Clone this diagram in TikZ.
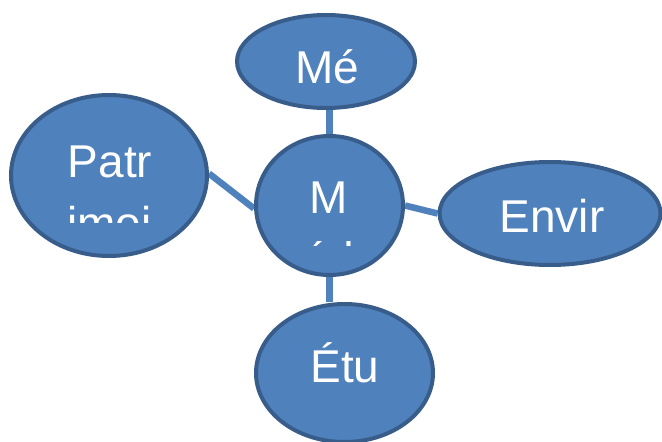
\documentclass[tikz,border=0pt]{standalone}
\usepackage{fontspec}
\setmainfont{Liberation Sans}
\usetikzlibrary{shapes.geometric,backgrounds}
\definecolor{fillc}{HTML}{4F81BD}
\definecolor{bordc}{HTML}{385D8A}
\tikzset{
  bub/.style={ellipse, draw=bordc, fill=fillc, line width=4pt, inner sep=0pt},
  lab/.style={text=white, inner sep=0pt, anchor=base, font=\fontsize{46}{54}\selectfont},
  conn/.style={draw=fillc, line width=6.5pt}
}
\begin{document}
\begin{tikzpicture}[x=1pt,y=-1pt]
\useasboundingbox (0,0) rectangle (662,442);
% bubbles
\node[bub, minimum width=178pt, minimum height=93pt] (M) at (326,61.5) {};
\node[bub, minimum width=196pt, minimum height=161pt] (P) at (109,175.5) {};
\node[bub, minimum width=147pt, minimum height=139pt] (C) at (329.5,205.5) {};
\node[bub, minimum width=221pt, minimum height=103pt] (E) at (550,213.5) {};
\node[bub, minimum width=177pt, minimum height=138pt] (T) at (344.5,373) {};
% connectors
\begin{pgfonlayer}{background}
\draw[conn] (C.north) -- (C.north |- M.south);
\draw[conn] (C.south) -- (C.south |- T.north);
\draw[conn] ([yshift=-3pt]C.west) -- ([yshift=2pt]P.east);
\draw[conn] (C.east) -- (E.west);
\end{pgfonlayer}
% labels
\node[lab] (tM) at (327,83) {Mé};
\node[lab] (tP) at (110,177) {Patr};
\begin{scope}
\clip (0,196) rectangle (662,222);
\node[lab] (tP2) at (109.5,239) {imoi};
\end{scope}
\node[lab] (tC) at (329,213) {M};
\begin{scope}
\clip (250,241) rectangle (410,245.5);
\node[lab] (tC2) at (329,274) {éd};
\end{scope}
\node[lab] (tE) at (552,232) {Envir};
\node[lab] (tT) at (345,382) {Étu};
\end{tikzpicture}
\end{document}
